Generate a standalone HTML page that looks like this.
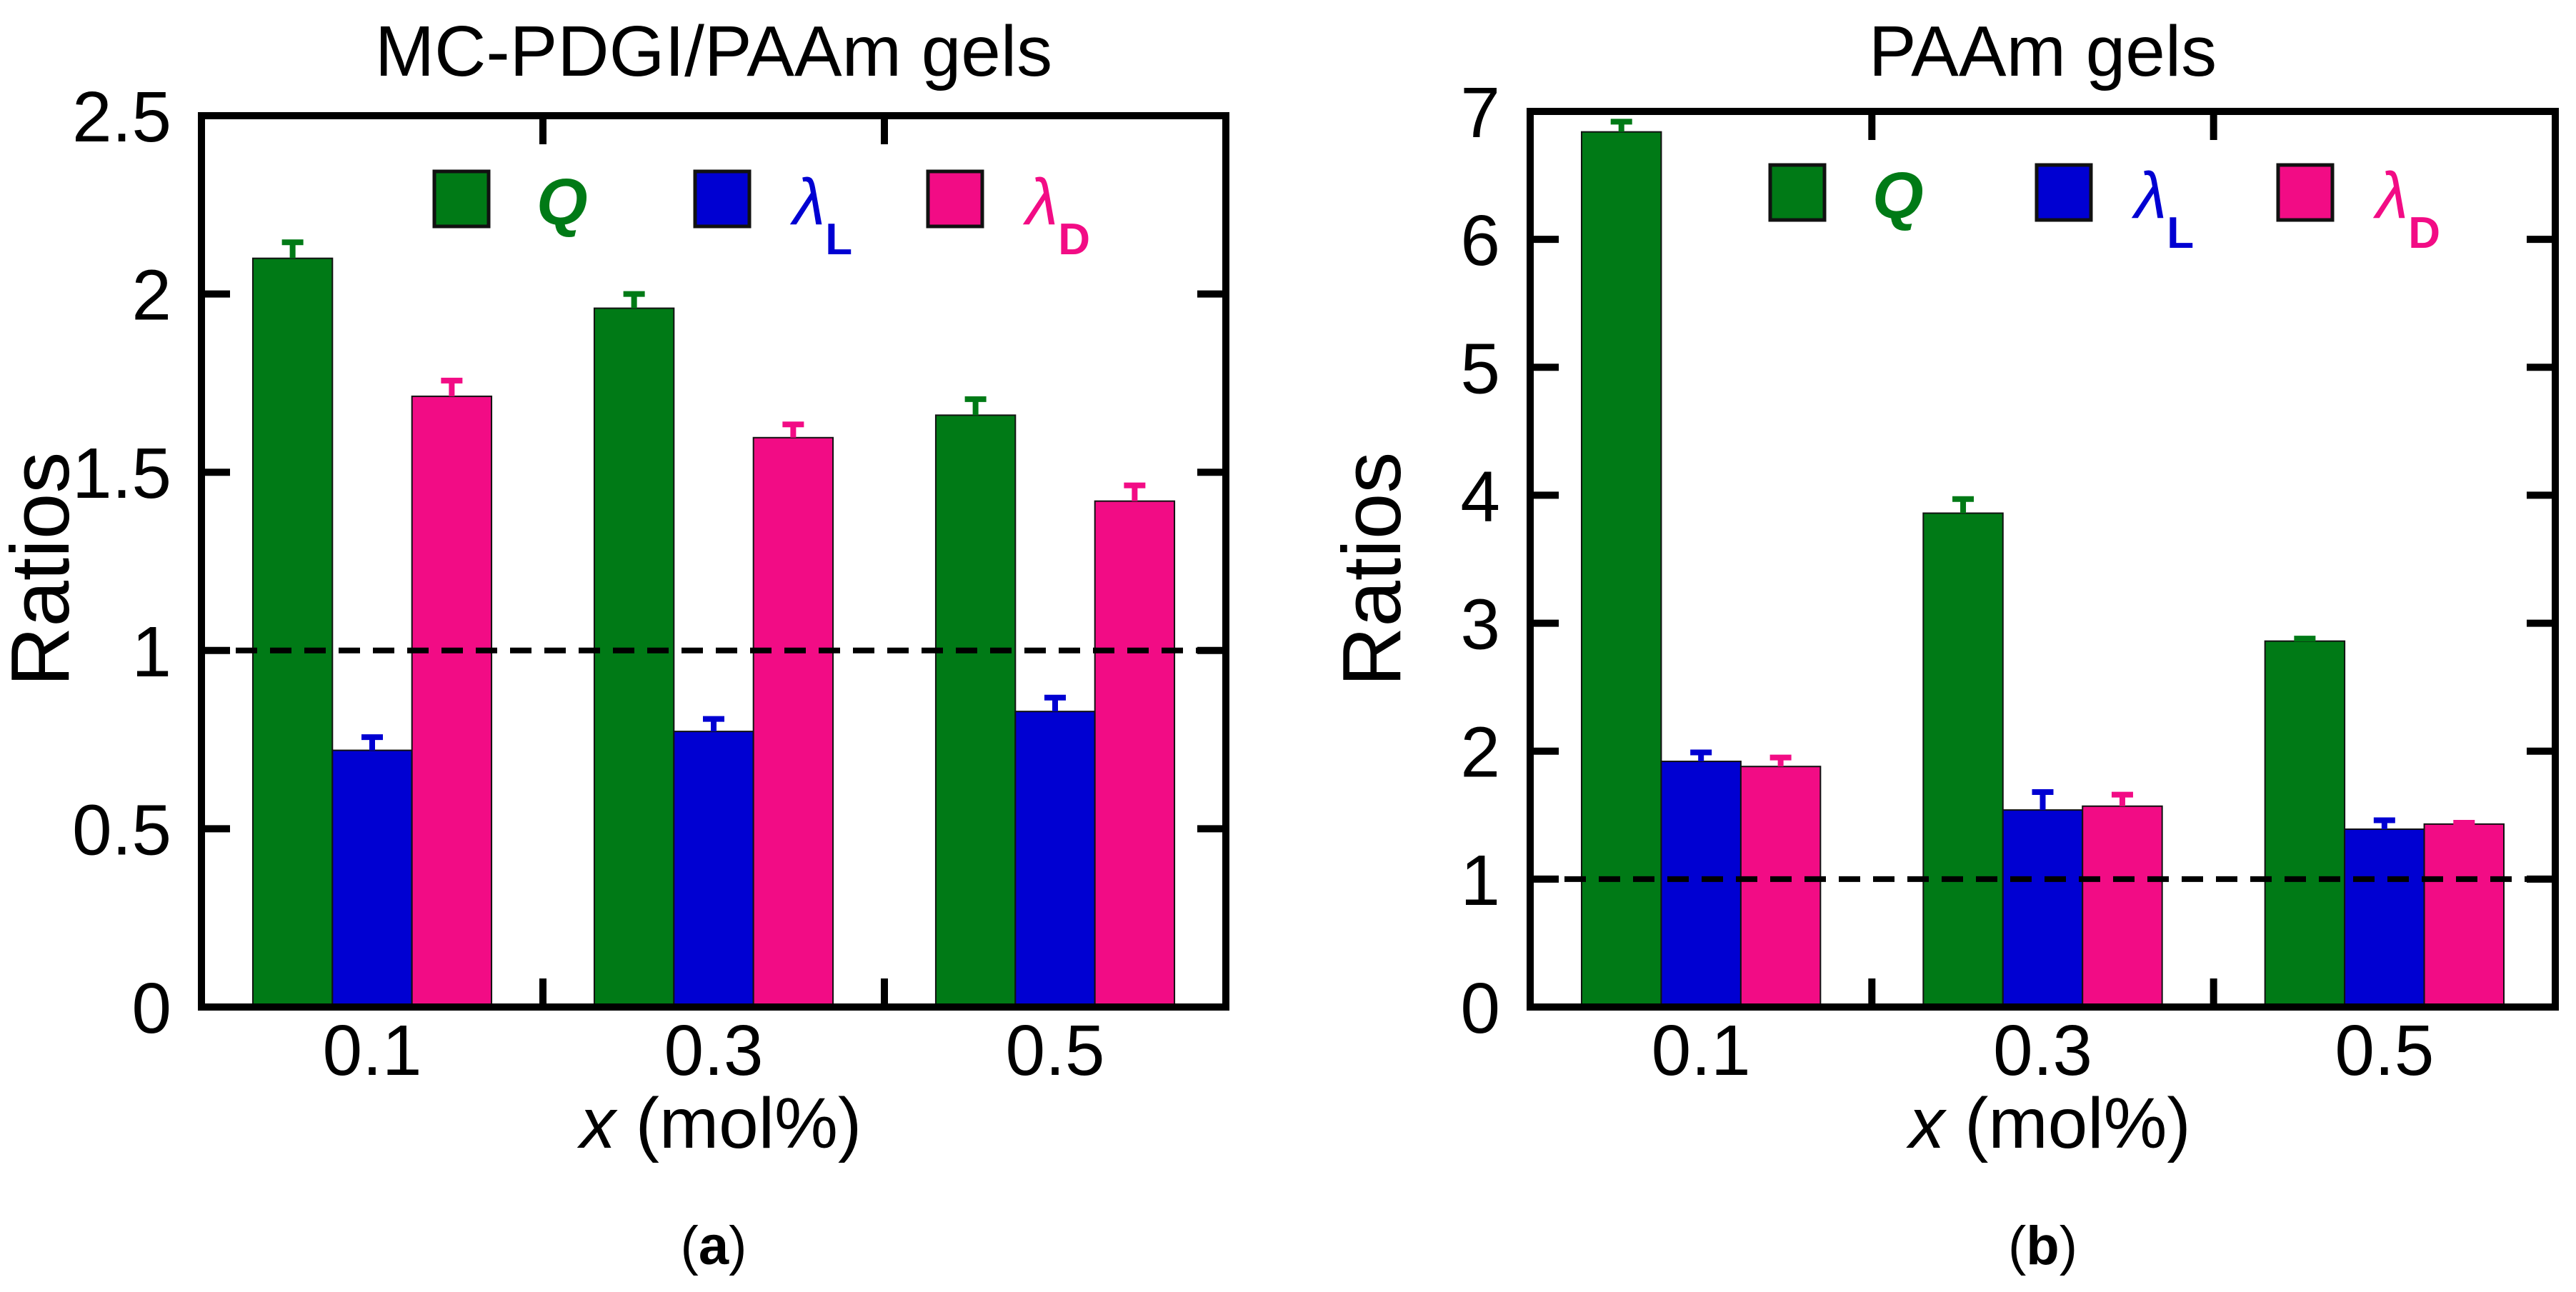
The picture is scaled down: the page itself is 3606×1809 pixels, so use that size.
<!DOCTYPE html>
<html><head><meta charset="utf-8"><style>
body{margin:0;background:#fff}
svg{display:block}
text{font-family:"Liberation Sans",sans-serif}
</style></head><body>
<svg id="fig" width="3606" height="1809" viewBox="0 0 3606 1809"></svg>
<script>
const categories=["0.1","0.3","0.5"];
const seriesNames=["Q","λL","λD"];
const aQ=[2.10,1.96,1.66], aQerr=[0.045,0.04,0.045];
const aL=[0.72,0.773,0.829], aLerr=[0.037,0.035,0.039];
const aD=[1.713,1.597,1.419], aDerr=[0.044,0.037,0.044];
const bQ=[6.84,3.86,2.86], bQerr=[0.08,0.11,0.02];
const bL=[1.92,1.54,1.39], bLerr=[0.07,0.14,0.07];
const bD=[1.88,1.57,1.43], bDerr=[0.07,0.09,0.01];
const aTicks=["0","0.5","1","1.5","2","2.5"];
const bTicks=["0","1","2","3","4","5","6","7"];
const colors=["#007a16","#0000d2","#f20c85"];
const NS="http://www.w3.org/2000/svg";
const svg=document.getElementById('fig');
function el(t,a,p){const e=document.createElementNS(NS,t);for(const k in a)e.setAttribute(k,a[k]);(p||svg).appendChild(e);return e;}
function panel(o){
  const g=el('g',{});
  
  
  const L=o.x0,R=o.x1,T=o.y0,B=o.y1;
  const ys=v=>B-(v/o.ymax)*(B-T);
  const xs=v=>L+(v-0.5)/3*(R-L);
  const bw=(R-L)/3*0.233;
  const sets=[o.Q,o.L,o.D],errs=[o.Qe,o.Le,o.De];
  categories.forEach((c,i)=>{
    const cx=xs(i+1);
    sets.forEach((s,j)=>{
      const x=cx+(j-1.5)*bw;
      const r=el('rect',{x:x,y:ys(s[i]),width:bw,height:B-ys(s[i]),fill:colors[j],stroke:'#111','stroke-width':2},g);
      
      
      const ex=x+bw/2,et=ys(s[i]+errs[j][i]);
      const e=el('path',{d:`M${ex},${ys(s[i])}V${et}M${ex-15},${et}H${ex+15}`,stroke:colors[j],'stroke-width':8,fill:'none'},g);
      
      
    });
    const t=el('text',{x:cx,y:1505,'font-size':100,'text-anchor':'middle'},g);t.textContent=c;
    
    
  });
  const d=el('line',{x1:L,x2:R,y1:ys(1),y2:ys(1),stroke:'#000','stroke-width':8,'stroke-dasharray':'30 18'},g);
  
  
  o.ticks.forEach(tk=>{
    const v=parseFloat(tk),y=ys(v);
    el('path',{d:`M${L},${y}h40M${R},${y}h-40`,stroke:'#000','stroke-width':10},g);
    const t=el('text',{x:L-42,y:y+36,'font-size':100,'text-anchor':'end'},g);t.textContent=tk;
    
    
  });
  [1.5,2.5].forEach(v=>{const x=xs(v);el('path',{d:`M${x},${T}v40M${x},${B}v-40`,stroke:'#000','stroke-width':10},g);});
  const f=el('rect',{x:L,y:T,width:R-L,height:B-T,fill:'none',stroke:'#000','stroke-width':10},g);
  
  
  const ti=el('text',{x:(L+R)/2,y:106,'font-size':100,'text-anchor':'middle'},g);ti.textContent=o.title;
  
  
  const yl=el('text',{x:0,y:0,'font-size':116,'text-anchor':'middle',transform:`translate(${o.ylx},797) rotate(-90)`},g);yl.textContent='Ratios';
  
  
  const xl=el('text',{x:(L+R)/2+10,y:1607,'font-size':100,'text-anchor':'middle'},g);
  xl.innerHTML='<tspan font-style="italic">x</tspan> (mol%)';
  
  
  const cap=el('text',{x:(L+R)/2,y:1770,'font-size':76,'text-anchor':'middle','font-family':'Liberation Serif, serif'},g);
  cap.innerHTML='(<tspan font-weight="bold">'+o.id+'</tspan>)';
  
  
  const lx=o.leg, ly=o.legy;
  const labs=['<tspan font-style="italic" font-weight="bold">Q</tspan>','<tspan font-style="italic">λ</tspan><tspan font-size="62" font-weight="bold" dy="42">L</tspan>','<tspan font-style="italic">λ</tspan><tspan font-size="62" font-weight="bold" dy="42">D</tspan>'];
  lx.forEach((x,j)=>{
    const s=el('rect',{x:x,y:ly,width:76,height:77,fill:colors[j],stroke:'#111','stroke-width':5},g);
    
    
    const t=el('text',{x:x+(j==0?143:137),y:ly+74,'font-size':92,fill:colors[j]},g);t.innerHTML=labs[j];
    
    
  });
}
panel({id:'a',title:'MC-PDGI/PAAm gels',x0:282,x1:1716,y0:162,y1:1410,ymax:2.5,Q:aQ,Qe:aQerr,L:aL,Le:aLerr,D:aD,De:aDerr,ticks:aTicks,ylx:96,leg:[608,973,1299],legy:240});
panel({id:'b',title:'PAAm gels',x0:2142,x1:3577,y0:156,y1:1410,ymax:7,Q:bQ,Qe:bQerr,L:bL,Le:bLerr,D:bD,De:bDerr,ticks:bTicks,ylx:1960,leg:[2478,2851,3189],legy:231});
</script>
</body></html>
